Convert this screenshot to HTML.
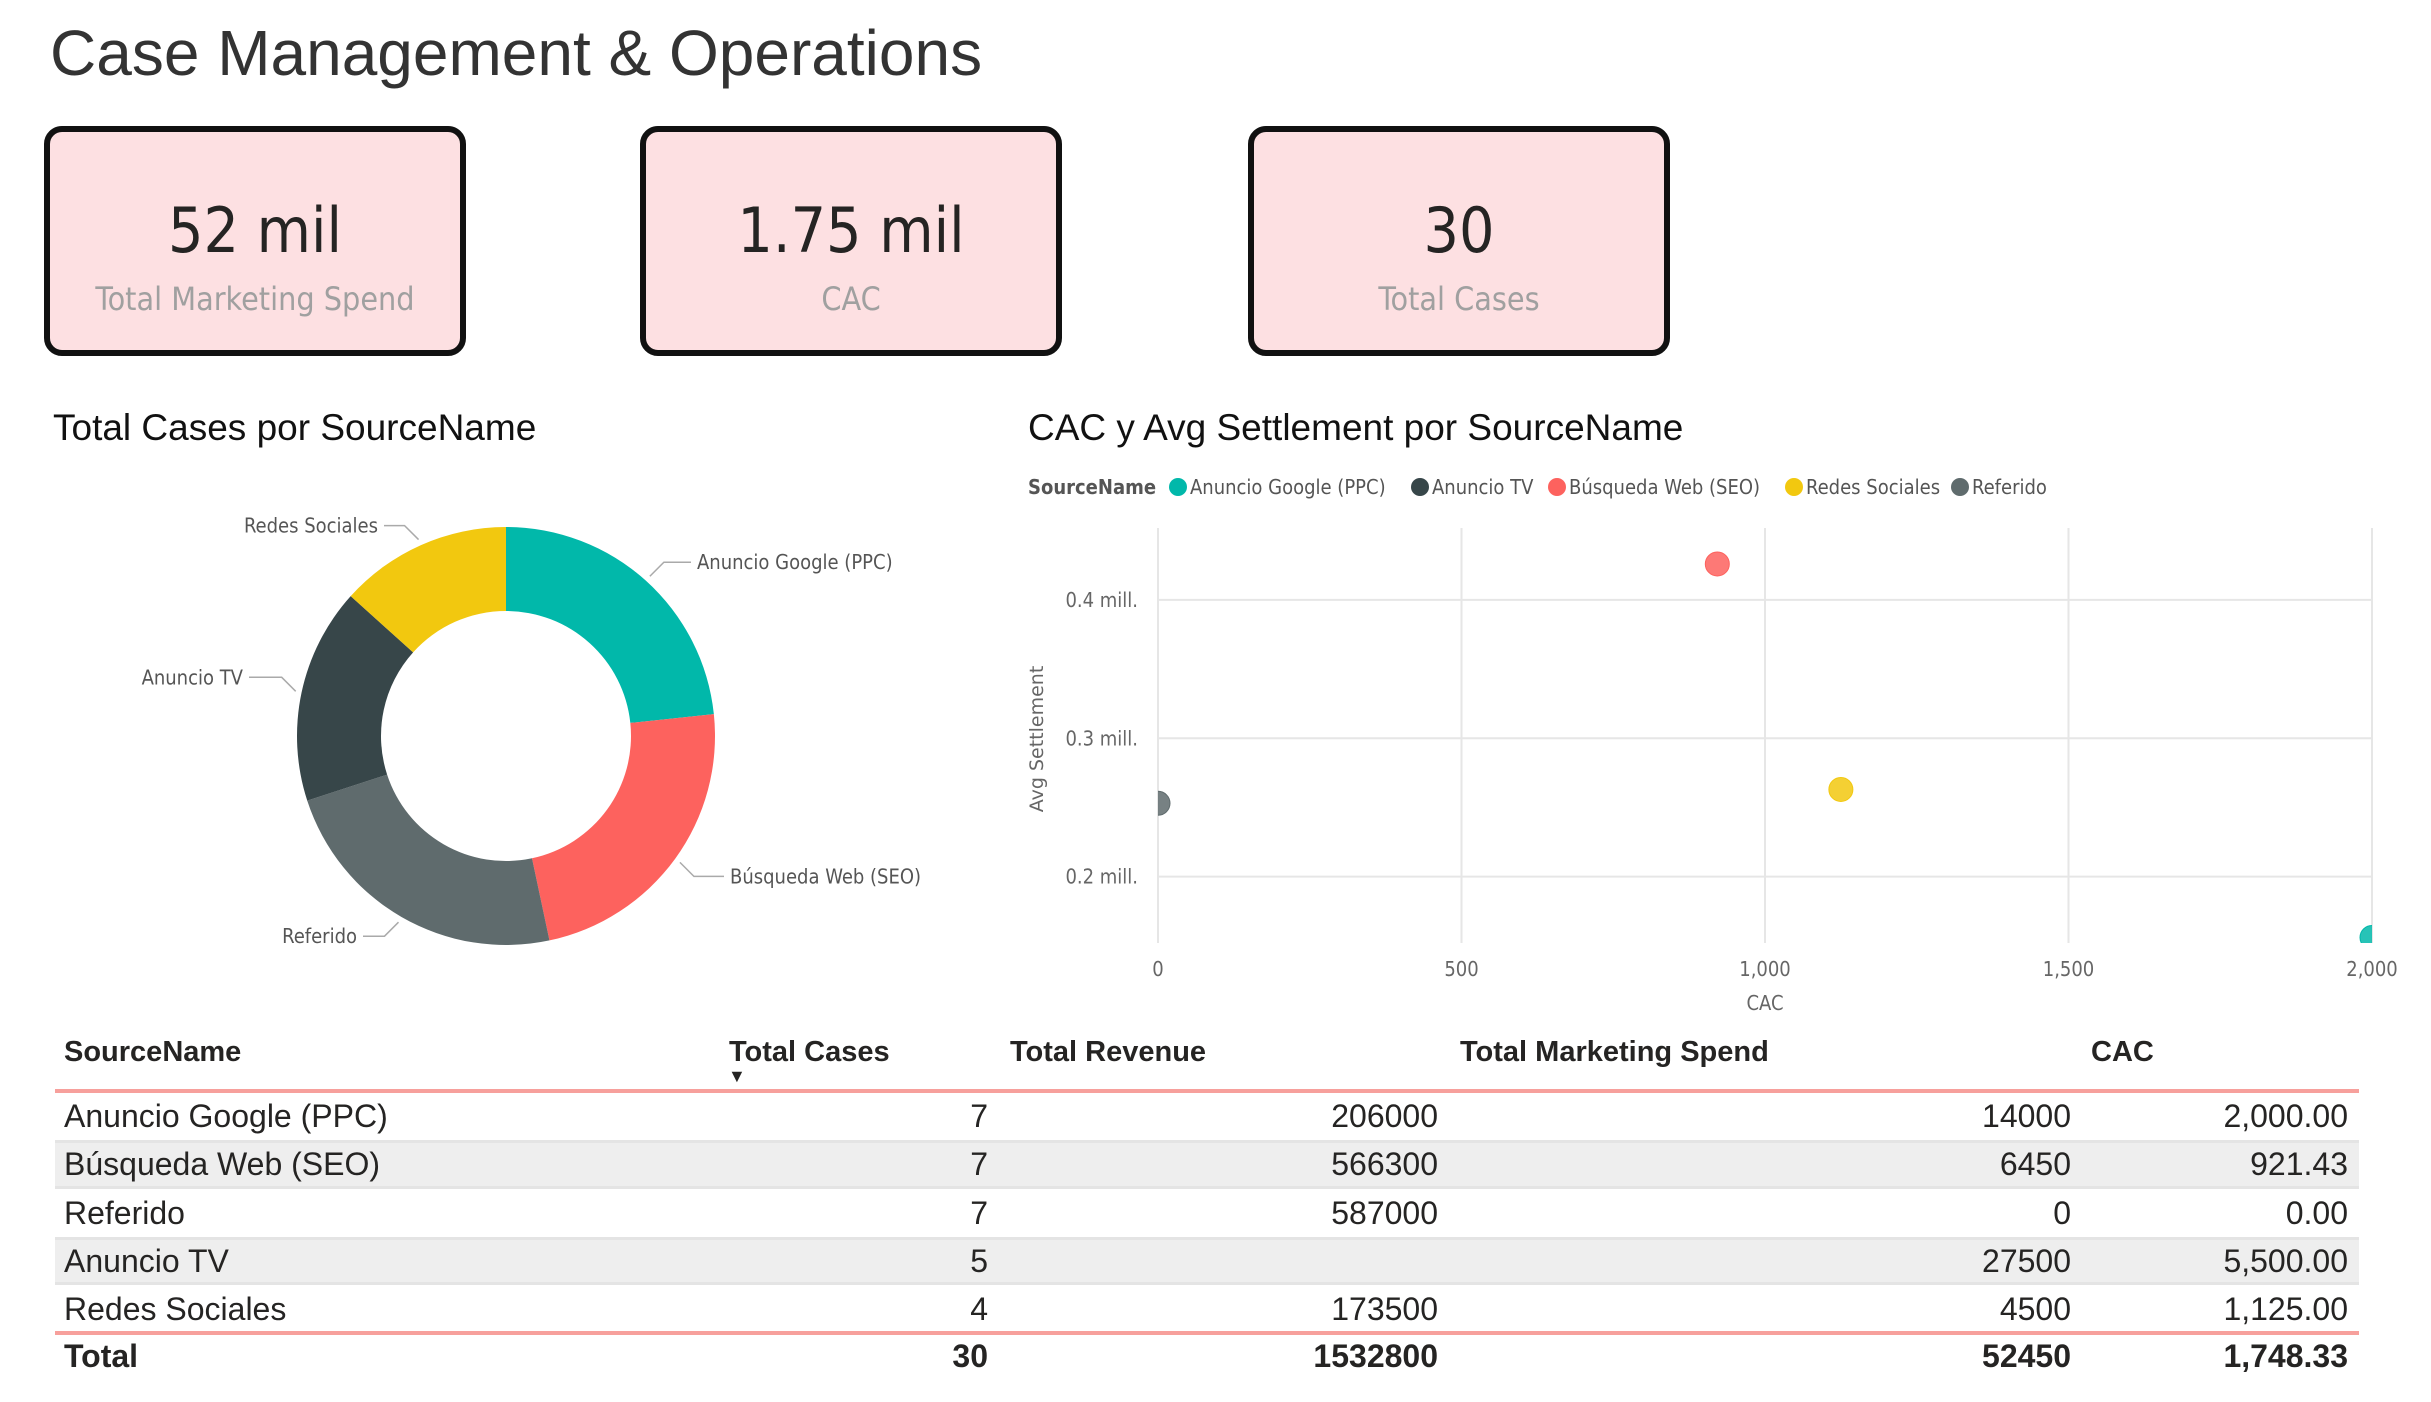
<!DOCTYPE html>
<html><head><meta charset="utf-8">
<style>
body{margin:0;width:2431px;height:1402px;background:#fff;position:relative;overflow:hidden;font-family:"Liberation Sans",sans-serif}
.abs{position:absolute}
.card{position:absolute;top:126px;width:410px;height:218px;background:#fde0e2;border:6px solid #111;border-radius:18px}
.card .v{position:absolute;left:0;right:0;top:62px;text-align:center;font-size:62px;color:#252423;font-family:"DejaVu Sans Condensed","DejaVu Sans",sans-serif}
.card .l{position:absolute;left:0;right:0;top:148px;text-align:center;font-size:32px;color:#a0a0a0;font-family:"DejaVu Sans Condensed","DejaVu Sans",sans-serif}
.th{position:absolute;top:1036px;font-size:29px;font-weight:bold;color:#252423}
.td{position:absolute;font-size:32px;color:#252423}
</style></head><body>
<div class="abs" style="left:50px;top:16px;font-size:64px;color:#333">Case Management &amp; Operations</div>
<div class="card" style="left:44px"><div class="v">52 mil</div><div class="l">Total Marketing Spend</div></div>
<div class="card" style="left:640px"><div class="v">1.75 mil</div><div class="l">CAC</div></div>
<div class="card" style="left:1248px"><div class="v">30</div><div class="l">Total Cases</div></div>

<svg class="abs" style="left:0;top:0" width="2431" height="1040" id="charts">
<text x="53" y="440" font-size="37" fill="#111">Total Cases por SourceName</text>
<g id="donut"></g>
<text x="1028" y="440" font-size="37" fill="#111">CAC y Avg Settlement por SourceName</text>
<g id="legend"></g>
<g id="scatter"></g>
</svg>

<div id="table"></div>

<script>
const NS="http://www.w3.org/2000/svg";
const categories=["Anuncio Google (PPC)","Búsqueda Web (SEO)","Referido","Anuncio TV","Redes Sociales"];
const cases=[7,7,7,5,4];
const colors=["#01B8AA","#FD625E","#5F6B6D","#374649","#F2C80F"];
const cacValues=[2000,921.43,0,5500,1125];
const avgSettlement=[0.156,0.426,0.253,null,0.263];
const xTicks=[0,500,1000,1500,2000];
const xTickLabels=["0","500","1,000","1,500","2,000"];
const yTicks=[0.2,0.3,0.4];
const yTickLabels=["0.2 mill.","0.3 mill.","0.4 mill."];
const revenue=["206000","566300","587000","","173500"];
const spend=["14000","6450","0","27500","4500"];
const cacText=["2,000.00","921.43","0.00","5,500.00","1,125.00"];
const totals=["Total","30","1532800","52450","1,748.33"];

function mk(tag,attrs,parent){const e=document.createElementNS(NS,tag);for(const k in attrs)e.setAttribute(k,attrs[k]);parent.appendChild(e);return e;}

// Donut
const dg=document.getElementById('donut');
const cx=506,cy=736,R=209,r=125;
const total=cases.reduce((a,b)=>a+b,0);
let a0=0;
const labelPos=[[697,567,'start'],[730,880,'start'],[357,947,'end'],[243,694,'end'],[378,526,'end']];
cases.forEach((v,i)=>{
  const a1=a0+v/total*2*Math.PI;
  const p=(a,rad)=>[cx+rad*Math.sin(a),cy-rad*Math.cos(a)];
  const [x1,y1]=p(a0,R),[x2,y2]=p(a1,R),[x3,y3]=p(a1,r),[x4,y4]=p(a0,r);
  const large=(a1-a0)>Math.PI?1:0;
  const path=mk('path',{d:`M${x1},${y1}A${R},${R} 0 ${large} 1 ${x2},${y2}L${x3},${y3}A${r},${r} 0 ${large} 0 ${x4},${y4}Z`,fill:colors[i]},dg);
  
  
  const am=(a0+a1)/2;
  const [ex,ey]=p(am,R+6);
  const L=labelPos[i];
  const dir=L[2]==='start'?1:-1;
  const kx=ex+dir*14, ky=ey+(Math.cos(am)>0?-14:14);
  mk('polyline',{points:`${ex},${ey} ${kx},${ky} ${L[0]-dir*6},${ky}`,fill:'none',stroke:'#aaa','stroke-width':1.5},dg);
  const t=mk('text',{x:L[0],y:ky+7,'font-size':20,fill:'#555','text-anchor':L[2],'font-family':'"DejaVu Sans Condensed","DejaVu Sans",sans-serif'},dg);
  t.textContent=categories[i];
  
  
  a0=a1;
});

// Legend
const lg=document.getElementById('legend');
const lt=mk('text',{x:1028,y:494,'font-size':20,'font-weight':'bold',fill:'#555','font-family':'"DejaVu Sans Condensed","DejaVu Sans",sans-serif'},lg);
lt.textContent="SourceName";
const legOrder=[0,3,1,4,2];
const legX=[1178,1420,1557,1794,1960];
legOrder.forEach((ci,k)=>{
  const c=mk('circle',{cx:legX[k],cy:487,r:9,fill:colors[ci]},lg);
  
  
  const t=mk('text',{x:legX[k]+12,y:494,'font-size':20,fill:'#555','font-family':'"DejaVu Sans Condensed","DejaVu Sans",sans-serif'},lg);
  t.textContent=categories[ci];
  
  
});

// Scatter
const sg=document.getElementById('scatter');
const px0=1158,px1=2372,py0=528,py1=943;
const xMin=0,xMax=2000,yMin=0.152,yMax=0.452;
const X=v=>px0+(v-xMin)/(xMax-xMin)*(px1-px0);
const Y=v=>py1-(v-yMin)/(yMax-yMin)*(py1-py0);
const defs=mk('defs',{},sg);
const cp=mk('clipPath',{id:'plotclip'},defs);
mk('rect',{x:px0,y:py0-20,width:px1-px0,height:py1-py0+20},cp);
xTicks.forEach((v,i)=>{
  mk('line',{x1:X(v),x2:X(v),y1:py0,y2:py1,stroke:'#e6e6e6','stroke-width':2},sg);
  const t=mk('text',{x:X(v),y:976,'font-size':20,fill:'#666','text-anchor':'middle','font-family':'"DejaVu Sans Condensed","DejaVu Sans",sans-serif'},sg);
  t.textContent=xTickLabels[i];
  
  
});
yTicks.forEach((v,i)=>{
  mk('line',{x1:px0,x2:px1,y1:Y(v),y2:Y(v),stroke:'#e6e6e6','stroke-width':2},sg);
  const t=mk('text',{x:1138,y:Y(v)+7,'font-size':20,fill:'#666','text-anchor':'end','font-family':'"DejaVu Sans Condensed","DejaVu Sans",sans-serif'},sg);
  t.textContent=yTickLabels[i];
  
  
});
const xt=mk('text',{x:X(1000),y:1010,'font-size':20,fill:'#666','text-anchor':'middle','font-family':'"DejaVu Sans Condensed","DejaVu Sans",sans-serif'},sg);
xt.textContent="CAC";


const yt=mk('text',{x:0,y:0,'font-size':19,fill:'#666','text-anchor':'middle',transform:'translate(1043,739) rotate(-90)','font-family':'"DejaVu Sans",sans-serif'},sg);
yt.textContent="Avg Settlement";


const pg=mk('g',{'clip-path':'url(#plotclip)'},sg);
categories.forEach((c,i)=>{
  if(avgSettlement[i]==null||cacValues[i]>xMax)return;
  const pt=mk('circle',{cx:X(cacValues[i]),cy:Y(avgSettlement[i]),r:12,fill:colors[i],'fill-opacity':0.85,stroke:colors[i],'stroke-width':1},pg);
  
  
});

// Table
const tb=document.getElementById('table');
function div(cls,style,text,name){const d=document.createElement('div');d.className=cls;d.style.cssText=style;d.textContent=text;


tb.appendChild(d);return d;}
const heads=[["SourceName",64],["Total Cases",729],["Total Revenue",1010],["Total Marketing Spend",1460],["CAC",2091]];
heads.forEach(h=>{const d=div('th','left:'+h[1]+'px',h[0],'column-header');});
div('abs','left:728px;top:1066px;font-size:18px;color:#252423','▼','sort-arrow');
const rowTop=1092,rowH=48.3;
categories.forEach((c,i)=>{
  const top=rowTop+i*rowH;
  if(i%2==1){div('abs',`left:55px;width:2304px;top:${top}px;height:${rowH}px;background:#eeeeee;border-top:3px solid #e4e4e4;border-bottom:3px solid #e4e4e4;box-sizing:border-box`,'','table-row-band');}
  const ty=top+6;
  div('td',`left:64px;top:${ty}px`,c,'cell-sourcename');
  div('td',`right:${2431-988}px;top:${ty}px`,String(cases[i]),'cell-total-cases');
  div('td',`right:${2431-1438}px;top:${ty}px`,revenue[i],'cell-total-revenue');
  div('td',`right:${2431-2071}px;top:${ty}px`,spend[i],'cell-marketing-spend');
  div('td',`right:${2431-2348}px;top:${ty}px`,cacText[i],'cell-cac');
});
div('abs','left:55px;width:2304px;top:1089px;height:4px;background:#f7a09c','','header-divider');
div('abs','left:55px;width:2304px;top:1331px;height:4px;background:#f7a09c','','total-divider');
const tr=[[64,'left'],[988,'right'],[1438,'right'],[2071,'right'],[2348,'right']];
totals.forEach((t,i)=>{
  const pos=tr[i][1]==='left'?`left:${tr[i][0]}px`:`right:${2431-tr[i][0]}px`;
  div('td',`${pos};top:1338px;font-weight:bold`,t,'total-cell');
});
</script>
</body></html>
